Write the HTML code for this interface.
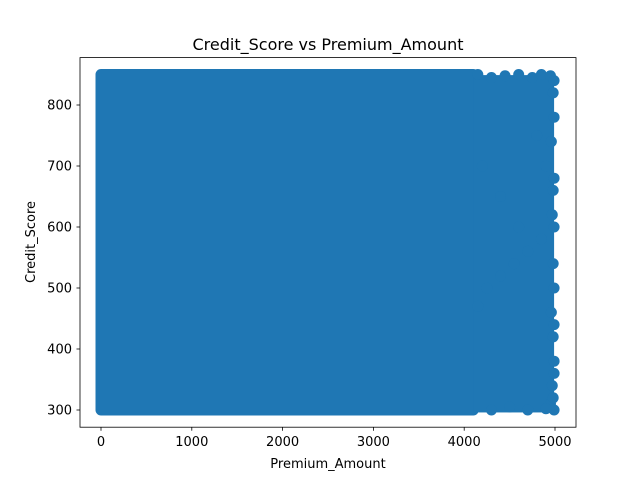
<!DOCTYPE html>
<html><head><meta charset="utf-8"><style>
body{margin:0;background:#fff}
svg text{font-family:"DejaVu Sans","Liberation Sans",sans-serif;fill:#000}
</style></head><body>
<svg id="chart" width="640" height="480" xmlns="http://www.w3.org/2000/svg">
<rect x="0" y="0" width="640" height="480" fill="#fff"/>
<g id="marks"></g>
<rect x="80" y="57.6" width="496" height="369.6" fill="none" stroke="#000" stroke-width="0.8"/>
<g id="xticks"></g>
<g id="yticks"></g>
<text x="328" y="50" font-size="16" text-anchor="middle">Credit_Score vs Premium_Amount</text>
<text x="328" y="468" font-size="13" text-anchor="middle">Premium_Amount</text>
<text transform="translate(35,242) rotate(-90)" font-size="13" text-anchor="middle">Credit_Score</text>
</svg>
<script>
const xTicks=[0,1000,2000,3000,4000,5000];
const yTicks=[300,400,500,600,700,800];
const denseX=[0,4100];
const denseY=[300,850];
const edgeX=[4150,4300,4450,4600,4750,4850,4950,4980,4990,4960,4900,4980,4970,4850,4700,4550,4400,4250,4150,4980,4990,4960,4980,4990,4970,4950,4990,4980,4300,4500,4700,4900,4200,4400,4600,4800,4990,4990,4990,4990,4990];
const edgeY=[850,845,848,850,845,850,848,820,780,740,700,660,620,580,560,540,520,500,470,540,500,460,420,380,340,310,300,320,300,305,300,302,700,650,600,750,840,600,440,360,680];
const X=v=>101+(v-0)*(454/5000);
const Y=v=>410-(v-300)*(305/500);
const NS='http://www.w3.org/2000/svg';
const marks=document.getElementById('marks');
const col='#1f77b4', r=5.5;
const blk=document.createElementNS(NS,'rect');


blk.setAttribute('x',X(denseX[0])-r);blk.setAttribute('y',Y(denseY[1])-r);
blk.setAttribute('width',X(denseX[1])-X(denseX[0])+2*r);
blk.setAttribute('height',Y(denseY[0])-Y(denseY[1])+2*r);
blk.setAttribute('rx',r);blk.setAttribute('fill',col);
marks.appendChild(blk);
const blk2=document.createElementNS(NS,'rect');


blk2.setAttribute('x',X(denseX[1]));blk2.setAttribute('y',Y(840)-r);
blk2.setAttribute('width',X(4990)-X(denseX[1]));
blk2.setAttribute('height',Y(305)-Y(840)+2*r);
blk2.setAttribute('fill',col);
marks.appendChild(blk2);
for(let i=0;i<edgeX.length;i++){
 const c=document.createElementNS(NS,'circle');
 
 
 c.setAttribute('cx',X(edgeX[i]));c.setAttribute('cy',Y(edgeY[i]));c.setAttribute('r',r);c.setAttribute('fill',col);
 marks.appendChild(c);
}
const xg=document.getElementById('xticks');
xTicks.forEach(v=>{
 const l=document.createElementNS(NS,'line');
 
 
 l.setAttribute('x1',X(v));l.setAttribute('x2',X(v));l.setAttribute('y1',427.2);l.setAttribute('y2',430.7);l.setAttribute('stroke','#000');l.setAttribute('stroke-width','0.8');
 xg.appendChild(l);
 const t=document.createElementNS(NS,'text');
 
 
 t.setAttribute('x',X(v));t.setAttribute('y',446);t.setAttribute('font-size','13');t.setAttribute('text-anchor','middle');
 t.textContent=v;xg.appendChild(t);
});
const yg=document.getElementById('yticks');
yTicks.forEach(v=>{
 const l=document.createElementNS(NS,'line');
 
 
 l.setAttribute('x1',76.5);l.setAttribute('x2',80);l.setAttribute('y1',Y(v));l.setAttribute('y2',Y(v));l.setAttribute('stroke','#000');l.setAttribute('stroke-width','0.8');
 yg.appendChild(l);
 const t=document.createElementNS(NS,'text');
 
 
 t.setAttribute('x',72);t.setAttribute('y',Y(v)+4.5);t.setAttribute('font-size','13');t.setAttribute('text-anchor','end');
 t.textContent=v;yg.appendChild(t);
});
</script>
</body></html>
